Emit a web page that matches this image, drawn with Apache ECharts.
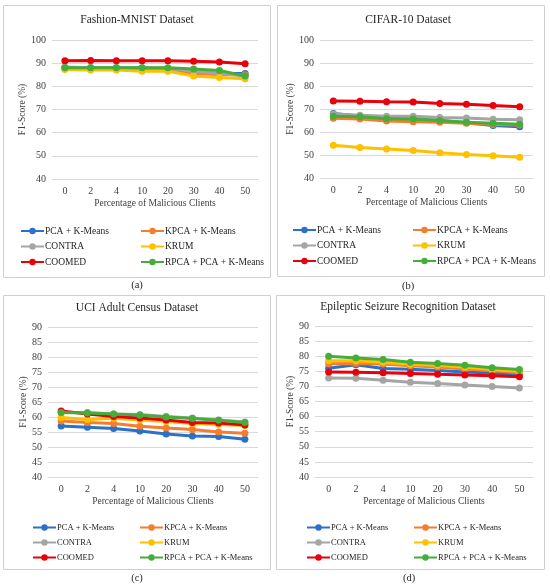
<!DOCTYPE html>
<html>
<head>
<meta charset="utf-8">
<script src="https://cdn.jsdelivr.net/npm/echarts@6/dist/echarts.min.js"></script>
<style>html,body{margin:0;padding:0;background:#fff}#c{width:550px;height:588px}</style>
</head>
<body>
<div id="c"></div>
<script>
const categories = ['0','2','4','10','20','30','40','50'];
const seriesNames = ['PCA + K-Means','KPCA + K-Means','CONTRA','KRUM','COOMED','RPCA + PCA + K-Means'];
const seriesColors = ['#2B70C9','#F47D2E','#A5A5A5','#FFC000','#E8000B','#45AD3A'];
const panelTitles = ['Fashion-MNIST Dataset','CIFAR-10 Dataset','UCI Adult Census Dataset','Epileptic Seizure Recognition Dataset'];
const panelLabels = ['(a)','(b)','(c)','(d)'];
const xAxisTitle = 'Percentage of Malicious Clients';
const yAxisTitle = 'F1-Score (%)';

// Fashion-MNIST
const fmPCA    = [88.0, 88.0, 88.0, 87.8, 87.5, 86.0, 85.5, 85.5];
const fmKPCA   = [87.8, 87.5, 87.5, 87.3, 87.0, 85.5, 85.0, 85.0];
const fmCONTRA = [88.3, 88.0, 88.0, 88.0, 87.8, 86.5, 85.5, 84.5];
const fmKRUM   = [87.3, 87.0, 87.0, 86.5, 86.5, 84.5, 83.8, 83.3];
const fmCOOMED = [91.0, 91.2, 91.0, 91.0, 91.0, 90.8, 90.5, 89.8];
const fmRPCA   = [88.0, 88.0, 88.0, 88.0, 88.0, 87.5, 86.8, 84.5];
// CIFAR-10
const cfPCA    = [68.0, 67.0, 66.0, 65.5, 65.0, 64.0, 62.8, 62.3];
const cfKPCA   = [66.0, 65.6, 64.8, 64.5, 64.2, 63.8, 63.3, 63.0];
const cfCONTRA = [67.8, 67.3, 66.8, 66.8, 66.3, 66.1, 65.5, 65.3];
const cfKRUM   = [54.2, 53.3, 52.6, 52.0, 51.0, 50.2, 49.7, 49.0];
const cfCOOMED = [73.5, 73.4, 73.1, 73.0, 72.4, 72.1, 71.5, 71.0];
const cfRPCA   = [66.8, 66.6, 65.8, 65.6, 65.0, 64.2, 63.8, 63.4];
// UCI Adult Census
const ucPCA    = [57.0, 56.6, 56.2, 55.3, 54.3, 53.7, 53.5, 52.6];
const ucKPCA   = [58.7, 58.2, 57.8, 56.9, 56.3, 55.8, 55.0, 54.6];
const ucCONTRA = [61.5, 61.5, 61.0, 60.8, 60.2, 59.7, 59.0, 58.3];
const ucKRUM   = [59.8, 59.2, 59.6, 59.0, 58.5, 57.8, 57.5, 57.2];
const ucCOOMED = [62.0, 61.0, 60.2, 59.7, 59.0, 58.2, 58.0, 57.3];
const ucRPCA   = [61.5, 61.3, 61.0, 60.6, 60.0, 59.5, 58.9, 58.2];
// Epileptic Seizure Recognition
const esPCA    = [76.0, 77.2, 75.9, 75.7, 75.3, 74.8, 74.4, 73.8];
const esKPCA   = [77.5, 77.6, 77.4, 76.8, 76.4, 75.8, 75.2, 74.5];
const esCONTRA = [72.8, 72.7, 72.0, 71.4, 71.0, 70.5, 70.0, 69.5];
const esKRUM   = [78.5, 78.5, 78.0, 77.3, 77.0, 76.3, 75.6, 75.0];
const esCOOMED = [74.8, 74.7, 74.5, 74.3, 74.0, 73.8, 73.5, 73.2];
const esRPCA   = [80.0, 79.4, 78.9, 78.0, 77.6, 77.0, 76.2, 75.6];

const panelData = [
  [fmPCA, fmKPCA, fmCONTRA, fmKRUM, fmCOOMED, fmRPCA],
  [cfPCA, cfKPCA, cfCONTRA, cfKRUM, cfCOOMED, cfRPCA],
  [ucPCA, ucKPCA, ucCONTRA, ucKRUM, ucCOOMED, ucRPCA],
  [esPCA, esKPCA, esCONTRA, esKRUM, esCOOMED, esRPCA]
];
const yRanges = [[40,100,10],[40,100,10],[40,90,5],[40,90,5]];

// layout
const FONT = '"Liberation Serif", "DejaVu Serif", serif';
const boxes = [[3,5,267,272],[277,5,267,271],[3,295,267,274],[276,295,268,274]];
const grids = [
  {left:52, top:40, width:206, height:139},
  {left:320, top:40, width:213, height:138},
  {left:48, top:327, width:210, height:150},
  {left:315, top:326, width:218, height:151}
];
const yNameGap = [25, 25, 18, 19];
const titlePos = [[137,20],[408,20],[137,308],[408,307]];
const labelPos = [[137,285],[408,286],[137,578],[409,578]];
const legendCols = [
  [[20,230],[140,230]],
  [[292,229],[412,229]],
  [[32,527],[139,527]],
  [[306,527],[413,527]]
];
const legendFont = [9.5, 9.5, 8.5, 8.5];
const legendGap = [5.5, 5.5, 6, 6];

const graphic = [];
boxes.forEach(b => graphic.push({type:'rect', shape:{x:b[0]+0.5,y:b[1]+0.5,width:b[2],height:b[3]}, style:{fill:'none', stroke:'#cfcfcf', lineWidth:1}, silent:true}));
panelTitles.forEach((t,i) => graphic.push({type:'text', x:titlePos[i][0], y:titlePos[i][1], style:{text:t, font:'11.5px ' + FONT, fill:'#262626', textAlign:'center', textVerticalAlign:'middle'}}));
panelLabels.forEach((t,i) => graphic.push({type:'text', x:labelPos[i][0], y:labelPos[i][1], style:{text:t, font:'10.5px ' + FONT, fill:'#262626', textAlign:'center', textVerticalAlign:'middle'}}));

const xAxis = [], yAxis = [], series = [], legend = [];
for (let p = 0; p < 4; p++) {
  xAxis.push({
    type:'category', gridIndex:p, data:categories, boundaryGap:true,
    axisLine:{show:true, lineStyle:{color:'#d9d9d9'}}, axisTick:{show:false},
    axisLabel:{fontFamily:FONT, fontSize:10, color:'#404040', margin:7},
    name:xAxisTitle, nameLocation:'middle', nameGap:19,
    nameTextStyle:{fontFamily:FONT, fontSize:9.5, color:'#404040'}
  });
  yAxis.push({
    type:'value', gridIndex:p, min:yRanges[p][0], max:yRanges[p][1], interval:yRanges[p][2],
    axisLine:{show:false}, axisTick:{show:false},
    splitLine:{lineStyle:{color:'#d9d9d9', width:1}},
    axisLabel:{fontFamily:FONT, fontSize:10, color:'#404040', margin:6},
    name:yAxisTitle, nameLocation:'middle', nameGap:yNameGap[p], nameRotate:90,
    nameTextStyle:{fontFamily:FONT, fontSize:9.5, color:'#404040'}
  });
  seriesNames.forEach((n, s) => {
    series.push({
      type:'line', name:n, xAxisIndex:p, yAxisIndex:p, data:panelData[p][s],
      symbol:'circle', symbolSize:7, showSymbol:true,
      lineStyle:{width:3, color:seriesColors[s]},
      itemStyle:{color:seriesColors[s]},
      animation:false, z: 2 + s
    });
  });
  const cols = [[0,2,4],[1,3,5]];
  cols.forEach((c, ci) => {
    legend.push({
      orient:'vertical', left:legendCols[p][ci][0], top:legendCols[p][ci][1] - 4,
      itemWidth:23, itemHeight:8, itemGap:legendGap[p], padding:0,
      data:c.map(k => seriesNames[k]),
      textStyle:{fontFamily:FONT, fontSize:legendFont[p], color:'#262626', padding:[0,0,0,-4]},
      selectedMode:false
    });
  });
}

const chart = echarts.init(document.getElementById('c'), null, {renderer:'canvas'});
chart.setOption({
  backgroundColor:'#ffffff',
  animation:false,
  grid:grids,
  xAxis:xAxis, yAxis:yAxis, series:series, legend:legend,
  graphic:graphic
});
</script>
</body>
</html>
